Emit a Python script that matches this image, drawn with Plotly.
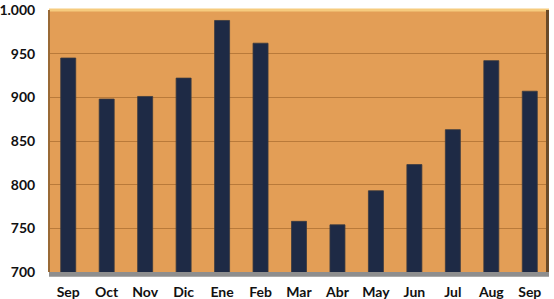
import plotly.graph_objects as go

months = ["Sep", "Oct", "Nov", "Dic", "Ene", "Feb", "Mar", "Abr", "May", "Jun", "Jul", "Aug", "Sep"]
values = [945, 898, 901, 922, 988, 962, 758, 754, 793, 823, 863, 942, 907]
y_ticks = [700, 750, 800, 850, 900, 950, 1000]
y_tick_labels = ["700", "750", "800", "850", "900", "950", "1.000"]

x_pos = list(range(len(months)))

fig = go.Figure()
fig.add_trace(go.Bar(
    x=x_pos, y=values,
    marker=dict(color="#1E2A45", line=dict(color="#3A3A40", width=0.8)),
    width=0.39,
))

font = dict(family="Lato, 'Liberation Sans', sans-serif", size=14, color="#111111")

fig.update_layout(
    width=554, height=299,
    margin=dict(l=49, r=5, t=10, b=27),
    paper_bgcolor="white",
    plot_bgcolor="#E39E56",
    showlegend=False,
    bargap=0.6,
    xaxis=dict(
        tickmode="array", tickvals=x_pos, ticktext=[f"<b>{m}</b>" for m in months],
        range=[-0.5, len(months) - 0.5], showgrid=False, zeroline=False,
        ticks="outside", ticklen=7, tickcolor="rgba(0,0,0,0)",
        tickfont=font, showline=False, automargin=False,
    ),
    yaxis=dict(
        tickmode="array", tickvals=y_ticks, ticktext=[f"<b>{t}</b>" for t in y_tick_labels],
        range=[700, 1000], showgrid=True, gridcolor="#B97A3A", gridwidth=1,
        zeroline=False, ticks="outside", ticklen=10, tickcolor="rgba(0,0,0,0)",
        tickfont=font, showline=False, automargin=False,
    ),
    shapes=[
        dict(type="line", xref="paper", yref="paper", x0=0, x1=1, y0=1, y1=1,
             line=dict(color="#F6CB7E", width=3), layer="above"),
        dict(type="line", xref="paper", yref="paper", x0=0, x1=0, y0=0, y1=1,
             line=dict(color="#9A6A36", width=2), layer="above"),
        dict(type="rect", xref="paper", yref="paper", x0=0.994, x1=1.0, y0=0, y1=1,
             fillcolor="#6B4A28", line=dict(width=0), layer="above"),
        dict(type="rect", xref="paper", yref="paper", x0=0, x1=1, y0=-0.018, y1=0.0,
             fillcolor="#8E8E8E", line=dict(width=0), layer="above"),
    ],
)

fig.write_html("out.html")
